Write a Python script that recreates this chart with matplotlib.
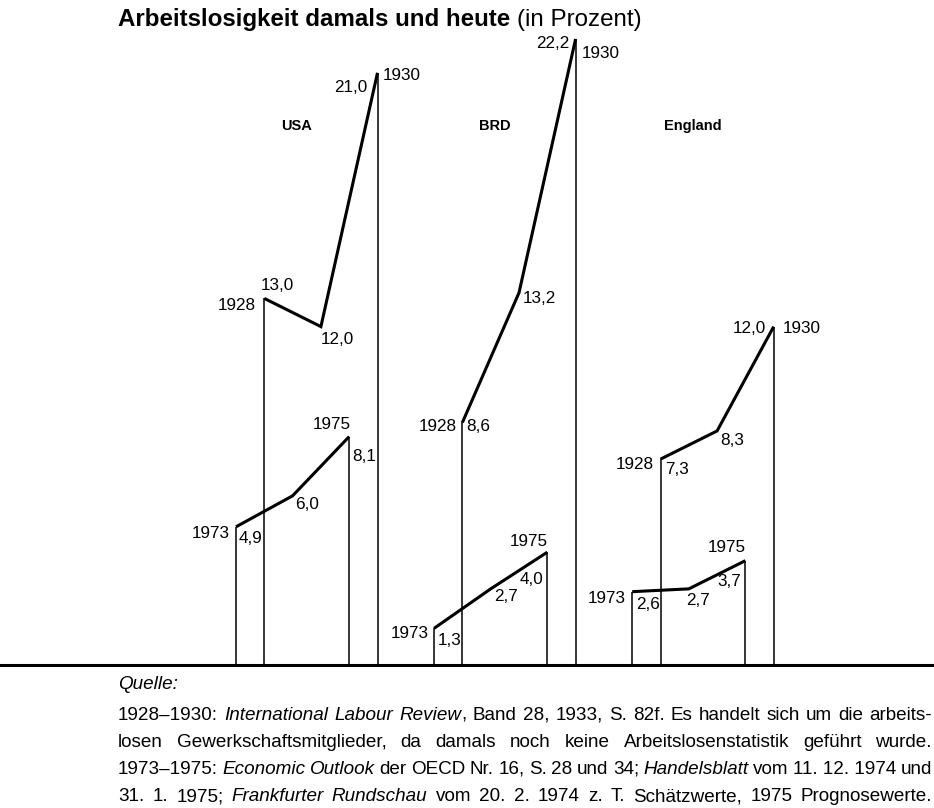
import re
import matplotlib
matplotlib.use('Agg')
import matplotlib.pyplot as plt
from matplotlib import font_manager

# unemployment in percent
countries = ['USA', 'BRD', 'England']
years_old = [1928, 1929, 1930]
years_new = [1973, 1974, 1975]
usa_old = [13.0, 12.0, 21.0]
usa_new = [4.9, 6.0, 8.1]
brd_old = [8.6, 13.2, 22.2]
brd_new = [1.3, 2.7, 4.0]
eng_old = [7.3, 8.3, 12.0]
eng_new = [2.6, 2.7, 3.7]

title_bold = 'Arbeitslosigkeit damals und heute'
title_rest = '(in Prozent)'
source_head = 'Quelle:'
# words in _underscores_ are set in italics
source_lines = [
    '1928–1930: _International_ _Labour_ _Review_, Band 28, 1933, S. 82f. Es handelt sich um die arbeits-',
    'losen Gewerkschaftsmitglieder, da damals noch keine Arbeitslosenstatistik geführt wurde.',
    '1973–1975: _Economic_ _Outlook_ der OECD Nr. 16, S. 28 und 34; _Handelsblatt_ vom 11.\u00a012.\u00a01974 und',
    '31. 1. 1975; _Frankfurter_ _Rundschau_ vom 20. 2. 1974 z. T. Schätzwerte, 1975 Prognosewerte.',
]

# label placement: (dx px, dy px, ha, va) for the three points of each series
value_pos = {
    'USA': [[(-4, 5, 'left', 'bottom'), (0, -5, 'left', 'top'), (-10, -15, 'right', 'center')],
            [(3, -12, 'left', 'center'), (3, -1, 'left', 'top'), (3, -20, 'left', 'center')]],
    'BRD': [[(4, -4, 'left', 'center'), (4, -6, 'left', 'center'), (-6, -5, 'right', 'center')],
            [(4, -12, 'left', 'center'), (3, -8, 'left', 'center'), (-4, -27, 'right', 'center')]],
    'England': [[(5, -10, 'left', 'center'), (3, -10, 'left', 'center'), (-8, -2, 'right', 'center')],
                [(4, -13, 'left', 'center'), (9, -12, 'center', 'center'), (-4, -21, 'right', 'center')]],
}
# year labels at first and last point of each series
year_pos = {
    'USA': [[(-8, -7, 'right', 'center'), (5, -3, 'left', 'center')],
            [(-6, -7, 'right', 'center'), (2, 5, 'right', 'bottom')]],
    'BRD': [[(-6, -4, 'right', 'center'), (6, -15, 'left', 'center')],
            [(-5, -5, 'right', 'center'), (0, 3, 'right', 'bottom')]],
    'England': [[(-7, -5, 'right', 'center'), (9, -2, 'left', 'center')],
                [(-6, -7, 'right', 'center'), (0, 6, 'right', 'bottom')]],
}

plt.rcParams['font.family'] = ['Liberation Sans', 'DejaVu Sans']
names = {f.name for f in font_manager.fontManager.ttflist}
note_font = 'Liberation Sans Narrow' if 'Liberation Sans Narrow' in names else 'Liberation Sans'

W, H = 934, 808
base_px = 665        # baseline, pixels from top
unit_x = 28.3
unit_y = 28.2
left_px = 236

fig = plt.figure(figsize=(W / 100, H / 100), dpi=100)
ymax = 23
ax = fig.add_axes([0, (H - base_px) / H, 1, ymax * unit_y / H])
ax.set_xlim(-left_px / unit_x, (W - left_px) / unit_x)
ax.set_ylim(0, ymax)
ax.axis('off')

ax.axhline(0, color='black', lw=2.2, clip_on=False)

series = {'USA': (usa_old, usa_new), 'BRD': (brd_old, brd_new), 'England': (eng_old, eng_new)}
group_step = 7
label_size = 12.3

for g, name in enumerate(countries):
    x0 = g * group_step
    old, new = series[name]
    xo = [x0 + (y - 1928) * 2 + 1 for y in years_old]
    xn = [x0 + (y - 1973) * 2 for y in years_new]
    for k, (xs, vals, yrs) in enumerate(((xo, old, years_old), (xn, new, years_new))):
        ax.vlines([xs[0], xs[-1]], 0, [vals[0], vals[-1]], color='black', lw=1.1)
        ax.plot(xs, vals, color='black', lw=2.2, solid_joinstyle='miter',
                solid_capstyle='butt', clip_on=False)
        for i in range(3):
            dx, dy, ha, va = value_pos[name][k][i]
            ax.annotate(f'{vals[i]:.1f}'.replace('.', ','), (xs[i], vals[i]),
                        xytext=(dx, dy), textcoords='offset pixels',
                        ha=ha, va=va, fontsize=label_size, annotation_clip=False)
        for j, i in enumerate((0, 2)):
            dx, dy, ha, va = year_pos[name][k][j]
            ax.annotate(str(yrs[i]), (xs[i], vals[i]),
                        xytext=(dx, dy), textcoords='offset pixels',
                        ha=ha, va=va, fontsize=label_size, annotation_clip=False)
    ax.text(x0 + 2.15, 19.1, name, ha='center', va='center',
            fontsize=10.5, fontweight='bold')

renderer = fig.canvas.get_renderer()

# title: bold part followed by regular part
t1 = fig.text(118 / W, 1 - 26 / H, title_bold, fontsize=17.4, fontweight='bold', va='baseline')
w1 = t1.get_window_extent(renderer).width
fig.text((118 + w1 + 7) / W, 1 - 26 / H, title_rest, fontsize=17.4, va='baseline')

# source note, justified between the two margins
x_left, x_right = 118, 932
probe = fig.text(0, 0, re.sub('_', '', source_lines[0]), fontsize=12, family=note_font)
natural = probe.get_window_extent(renderer).width
probe.remove()
note_size = 12 * (x_right - x_left) / natural * 0.985

fig.text(x_left / W, 1 - 689 / H, source_head, fontsize=note_size, style='italic',
         family=note_font, va='baseline')
line_base = [720, 747, 774, 801]
for line, ypx in zip(source_lines, line_base):
    words = []
    for word in line.split(' '):
        pieces = [p for p in re.split(r'(_[^_]*_)', word) if p]
        parts = []
        for p in pieces:
            italic = p.startswith('_') and p.endswith('_')
            txt = p.strip('_') if italic else p
            t = fig.text(0, 1 - ypx / H, txt, fontsize=note_size, family=note_font,
                         style='italic' if italic else 'normal', va='baseline')
            parts.append((t, t.get_window_extent(renderer).width))
        words.append(parts)
    total = sum(w for parts in words for _, w in parts)
    gap = (x_right - x_left - total) / (len(words) - 1)
    x = x_left
    for parts in words:
        for t, w in parts:
            t.set_x(x / W)
            x += w
        x += gap

fig.savefig('out.png', dpi=100)
